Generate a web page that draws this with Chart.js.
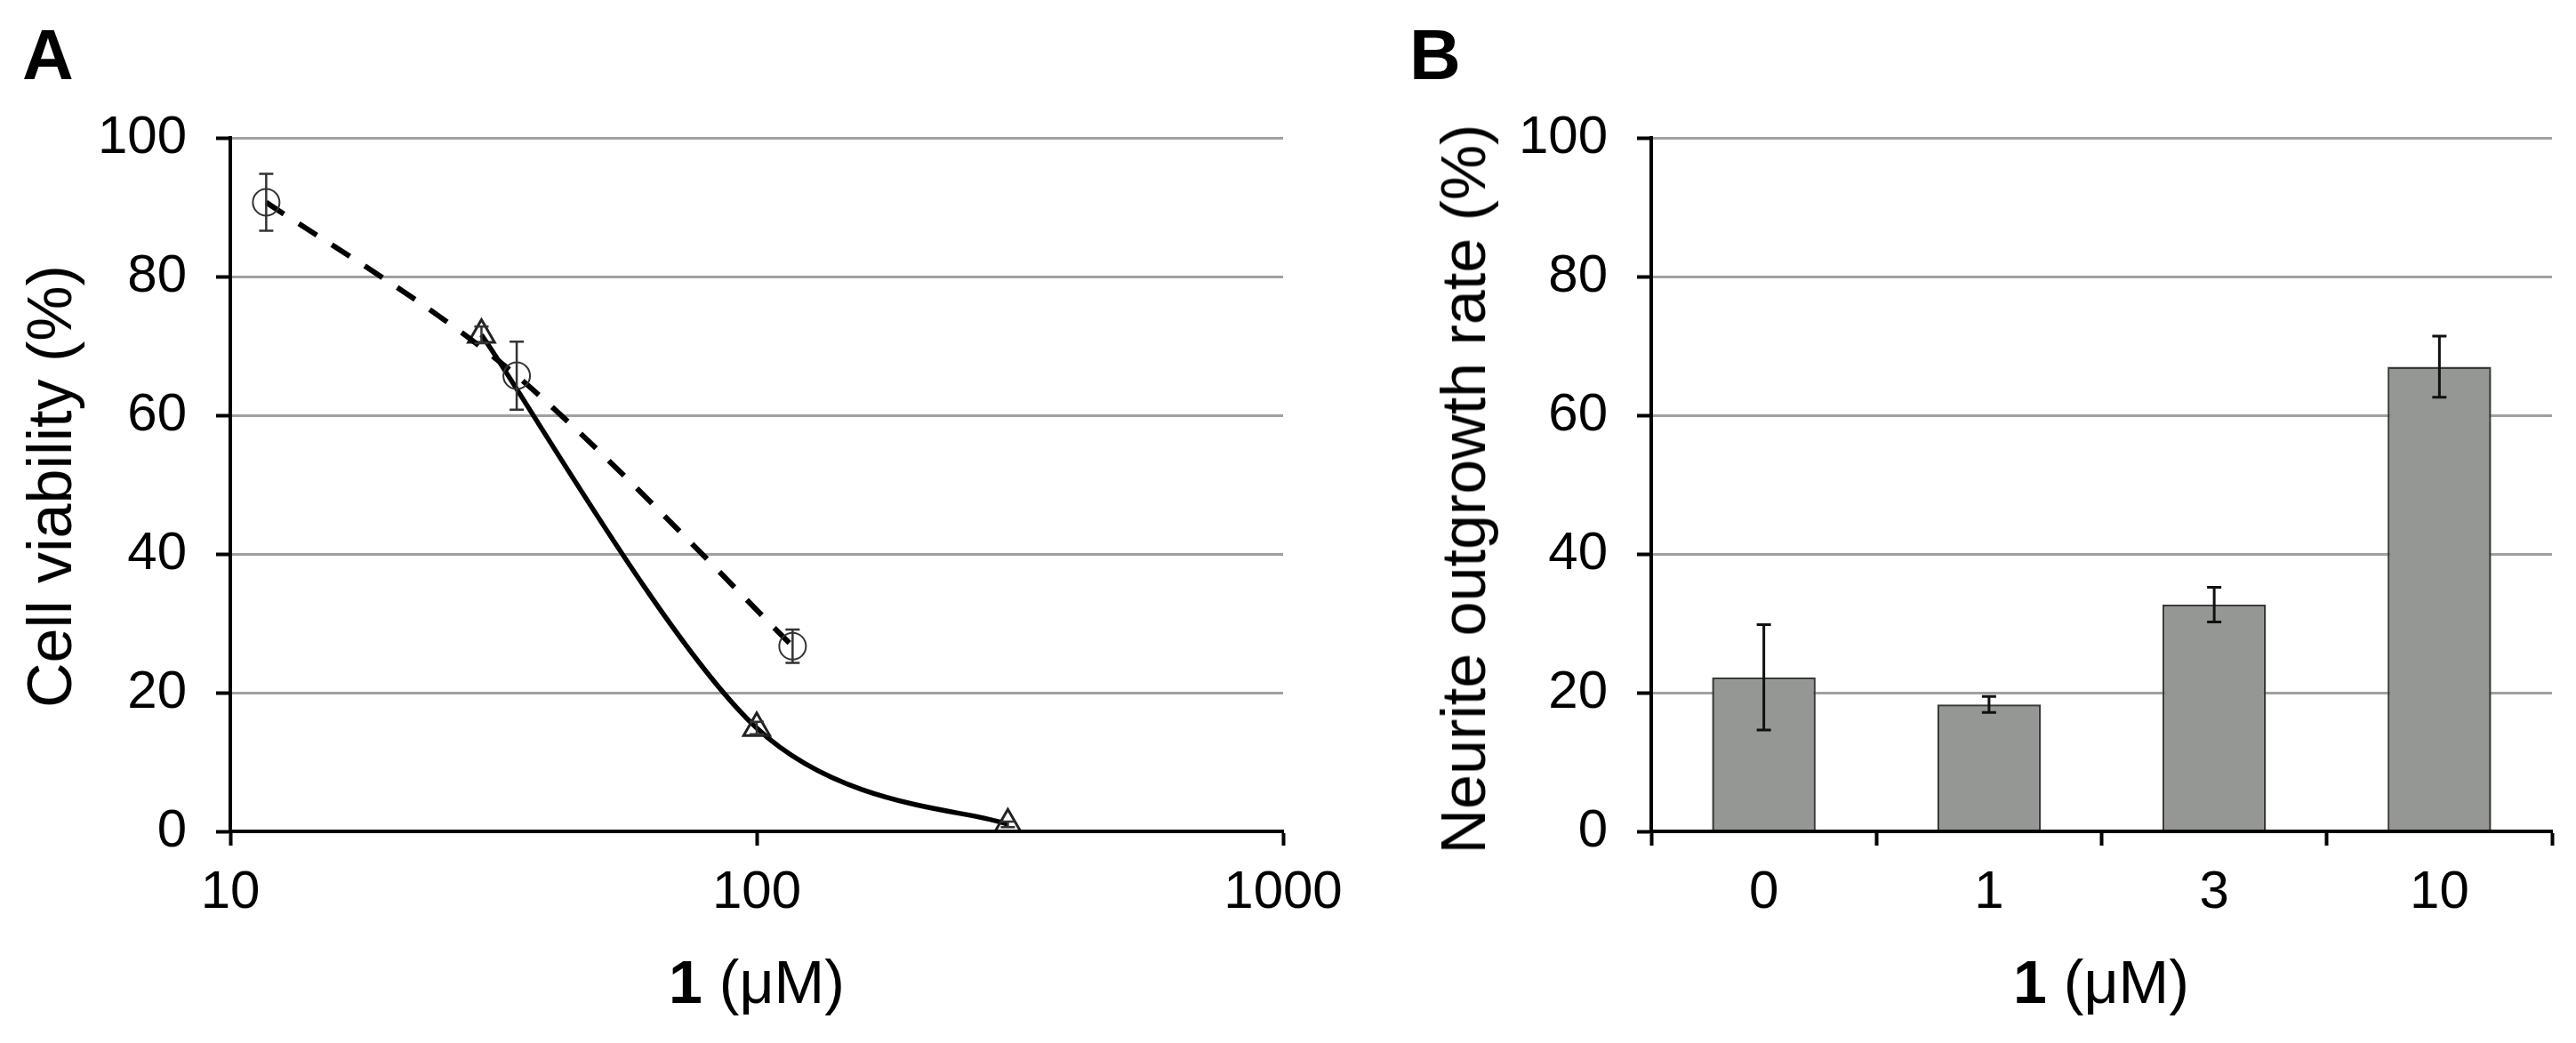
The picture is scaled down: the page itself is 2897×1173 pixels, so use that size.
<!DOCTYPE html>
<html><head><meta charset="utf-8">
<script src="https://cdn.jsdelivr.net/npm/chart.js@4.4.0/dist/chart.umd.min.js"></script>
<style>
html,body{margin:0;padding:0;background:#fff;}
body{width:2897px;height:1173px;position:relative;overflow:hidden;font-family:"Liberation Sans",Arial,sans-serif;color:#000;}
canvas{position:absolute;top:0;}
.t{position:absolute;line-height:1;white-space:nowrap;}
</style></head><body>
<canvas id="ca" width="1560" height="1173" style="left:0;width:1560px;height:1173px"></canvas>
<canvas id="cb" width="1397" height="1173" style="left:1500px;width:1397px;height:1173px"></canvas>
<div class="t" style="left:25px;top:22px;font-size:80px;font-weight:bold">A</div>
<div class="t" style="left:1585px;top:22px;font-size:80px;font-weight:bold">B</div>
<div class="t" style="left:851px;top:1070px;font-size:68px;transform:translateX(-50%)"><b>1</b> (μM)</div>
<div class="t" style="left:2363px;top:1070px;font-size:68px;transform:translateX(-50%)"><b>1</b> (μM)</div>
<div class="t" style="left:56px;top:547px;font-size:70px;transform:translate(-50%,-50%) rotate(-90deg)">Cell viability (%)</div>
<div class="t" style="left:1646px;top:550px;font-size:70px;transform:translate(-50%,-50%) rotate(-90deg)">Neurite outgrowth rate (%)</div>
<script>
// ---- Panel A data ----
const concCircles = [11.7, 35, 117];
const viabilityCircles = [90.7, 65.7, 26.7];
const errCircles = [4.1, 4.9, 2.4];
const concTriangles = [30, 100, 300];
const viabilityTriangles = [71.6, 14.9, 1.0];
const errTriangles = [1.2, 0.9, 0.4];
const xTicksA = [10, 100, 1000];
const yTicks = [0, 20, 40, 60, 80, 100];
// ---- Panel B data ----
const categoriesB = ['0', '1', '3', '10'];
const outgrowth = [22.2, 18.3, 32.7, 67.0];
const errOutgrowth = [7.6, 1.15, 2.5, 4.4];

Chart.defaults.font.family = '"Liberation Sans", Arial, sans-serif';
Chart.defaults.color = '#000';

const errorBars = {
  id: 'errorBars',
  afterDatasetsDraw(chart, args, opts) {
    const ctx = chart.ctx, ys = chart.scales.y;
    (opts.sets || []).forEach(s => {
      const meta = chart.getDatasetMeta(s.dataset);
      meta.data.forEach((el, i) => {
        const v = s.values[i], e = s.errors[i];
        const x = el.x;
        const y1 = ys.getPixelForValue(v + e), y2 = ys.getPixelForValue(v - e);
        ctx.save();
        ctx.strokeStyle = s.color; ctx.lineWidth = s.width; ctx.lineCap = 'butt';
        ctx.beginPath();
        ctx.moveTo(x, y1); ctx.lineTo(x, y2);
        ctx.moveTo(x - s.cap, y1); ctx.lineTo(x + s.cap, y1);
        ctx.moveTo(x - s.cap, y2); ctx.lineTo(x + s.cap, y2);
        ctx.stroke();
        ctx.restore();
      });
    });
  }
};

// Spreadsheet-style smoothed line: control points at 1/6 of the neighbour chord
const spreadsheetSmooth = {
  id: 'spreadsheetSmooth',
  beforeDatasetsDraw(chart) {
    chart.data.datasets.forEach((ds, di) => {
      const meta = chart.getDatasetMeta(di);
      if (meta.type !== 'line' || !meta.dataset) return;
      meta.dataset.updateControlPoints(chart.chartArea, 'x');
      const pts = meta.data, n = pts.length;
      for (let i = 0; i < n; i++) {
        const p = pts[i], prev = pts[Math.max(i - 1, 0)], next = pts[Math.min(i + 1, n - 1)];
        const dx = (next.x - prev.x) / 6, dy = (next.y - prev.y) / 6;
        p.cp1x = p.x - dx; p.cp1y = p.y - dy;
        p.cp2x = p.x + dx; p.cp2y = p.y + dy;
      }
      meta.dataset._path = undefined;
    });
  }
};

const tickFont = { size: 60, family: '"Liberation Sans", Arial, sans-serif' };

function yScale(width) {
  return {
    min: 0, max: 100,
    afterBuildTicks: s => { s.ticks = yTicks.map(v => ({ value: v })); },
    ticks: { font: tickFont, color: '#000', padding: 33 },
    grid: { color: '#a0a0a0', lineWidth: 3, drawTicks: true, tickLength: 16, tickWidth: 4, tickColor: '#000' },
    border: { display: true, color: '#000', width: 4, z: 1 },
    afterFit: s => { s.width = width; }
  };
}

new Chart(document.getElementById('ca'), {
  type: 'line',
  data: {
    datasets: [
      {
        data: concCircles.map((c, i) => ({ x: c, y: viabilityCircles[i] })),
        borderColor: '#000', borderWidth: 6, borderDash: [24, 20], borderCapStyle: 'butt',
        tension: 0.4, fill: false,
        pointStyle: 'circle', pointRadius: 15, pointBorderWidth: 2,
        pointBorderColor: '#333', pointBackgroundColor: 'rgba(0,0,0,0)'
      },
      {
        data: concTriangles.map((c, i) => ({ x: c, y: viabilityTriangles[i] })),
        borderColor: '#000', borderWidth: 5.5, tension: 0.4, fill: false,
        pointStyle: 'triangle', pointRadius: 17, pointBorderWidth: 3,
        pointBorderColor: '#222', pointBackgroundColor: 'rgba(0,0,0,0)'
      }
    ]
  },
  options: {
    responsive: false, animation: false, devicePixelRatio: 1,
    events: [],
    layout: { padding: { top: 155, right: 117, left: 0, bottom: 0 } },
    plugins: {
      legend: { display: false }, tooltip: { enabled: false },
      errorBars: { sets: [
        { dataset: 0, values: viabilityCircles, errors: errCircles, color: '#333', width: 2.5, cap: 8 },
        { dataset: 1, values: viabilityTriangles, errors: errTriangles, color: '#333', width: 2.5, cap: 8 }
      ] }
    },
    scales: {
      x: {
        type: 'logarithmic', position: 'bottom', min: 10, max: 1000,
        afterBuildTicks: s => { s.ticks = xTicksA.map(v => ({ value: v })); },
        ticks: { font: tickFont, color: '#000', padding: 17, autoSkip: false, maxRotation: 0,
                 callback: v => String(v) },
        grid: { drawOnChartArea: false, drawTicks: true, tickLength: 16, tickWidth: 4, tickColor: '#000' },
        border: { display: true, color: '#000', width: 4, z: 1 },
        afterFit: s => { s.height = 238; }
      },
      y: yScale(259)
    }
  },
  plugins: [spreadsheetSmooth, errorBars]
});

new Chart(document.getElementById('cb'), {
  type: 'bar',
  data: {
    labels: categoriesB,
    datasets: [{
      data: outgrowth,
      backgroundColor: '#959795', borderColor: '#3a3a3a', borderWidth: 2.5,
      barPercentage: 0.46, categoryPercentage: 1
    }]
  },
  options: {
    responsive: false, animation: false, devicePixelRatio: 1,
    events: [],
    layout: { padding: { top: 155, right: 27, left: 0, bottom: 0 } },
    plugins: {
      legend: { display: false }, tooltip: { enabled: false },
      errorBars: { sets: [
        { dataset: 0, values: outgrowth, errors: errOutgrowth, color: '#111', width: 3, cap: 8 }
      ] }
    },
    scales: {
      x: {
        type: 'category', position: 'bottom', offset: true,
        ticks: { font: tickFont, color: '#000', padding: 17, autoSkip: false, maxRotation: 0 },
        grid: { offset: true, drawOnChartArea: false, drawTicks: true, tickLength: 16, tickWidth: 4, tickColor: '#000' },
        border: { display: true, color: '#000', width: 4, z: 1 },
        afterFit: s => { s.height = 238; }
      },
      y: yScale(357)
    }
  },
  plugins: [errorBars]
});
</script>
</body></html>
